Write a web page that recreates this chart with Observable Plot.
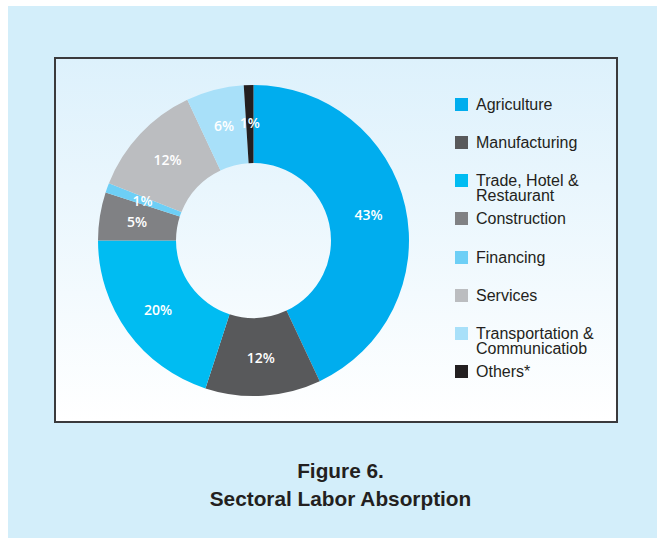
<!DOCTYPE html>
<html>
<head>
<meta charset="utf-8">
<script src="https://cdn.jsdelivr.net/npm/d3@7"></script>
<script src="https://cdn.jsdelivr.net/npm/@observablehq/plot@0.6"></script>
<style>
  html, body { margin: 0; padding: 0; background: #ffffff; width: 657px; height: 538px; overflow: hidden; }
  #panel { position: absolute; left: 8px; top: 6px; width: 649px; height: 532px; background: #d3eefa; }
  #box { position: absolute; left: 54px; top: 57px; width: 560px; height: 362px;
         border: 2px solid #3a3a3c; background: linear-gradient(#ddf1fc, #ffffff); }
  #chart { position: absolute; left: 56px; top: 59px; }
  .sw { position: absolute; width: 13px; height: 13px; }
  .lt { position: absolute; font-family: "Liberation Sans", Arial, Helvetica, sans-serif; font-size: 16px;
        line-height: 15px; color: #231f20; white-space: pre-line; }
  #title { position: absolute; left: 90px; width: 501px; top: 457px; text-align: center;
           font-family: "Liberation Sans", Arial, Helvetica, sans-serif; font-weight: bold; font-size: 20.8px;
           line-height: 27.5px; color: #231f20; }
</style>
</head>
<body>
<div id="panel"></div>
<div id="box"></div>
<div id="chart"></div>
<div id="legend"></div>
<div id="title">Figure 6.<br>Sectoral Labor Absorption</div>
<script>
// ---- data ----
const sectors = ["Agriculture", "Manufacturing", "Trade, Hotel & Restaurant", "Construction",
                 "Financing", "Services", "Transportation & Communicatiob", "Others*"];
const legendLabels = ["Agriculture", "Manufacturing", "Trade, Hotel &\nRestaurant", "Construction",
                      "Financing", "Services", "Transportation &\nCommunicatiob", "Others*"];
const shares = [43, 12, 20, 5, 1, 12, 6, 1];
const colors = ["#00adee", "#58595b", "#00bcf2", "#808184", "#6dcff6", "#bbbdc0", "#a8e0f9", "#231f20"];

const data = sectors.map((s, i) => ({sector: s, value: shares[i]}));
const total = d3.sum(shares);

const innerR = 77.5, outerR = 155.5, labelR = 118;
const arcGen = d3.arc().innerRadius(innerR).outerRadius(outerR);

function g(ctx, dims) {
  const el = d3.select(ctx.document.createElementNS(d3.namespaces.svg, "g"));
  el.attr("transform", `translate(${dims.width / 2},${dims.height / 2})`);
  return el;
}

const chart = Plot.plot({
  width: 395,
  height: 363,
  margin: 0,
  style: {background: "none", overflow: "visible"},
  x: {domain: [0, total], range: [0, 2 * Math.PI], axis: null},
  color: {domain: sectors, range: colors},
  marks: [
    Plot.barX(data, {
      x: "value", fill: "sector",
      render(I, scales, values, dims, ctx) {
        const el = g(ctx, dims);
        el.selectAll("path").data(I).join("path")
          .attr("d", i => arcGen({startAngle: values.x1[i], endAngle: values.x2[i]}))
          .attr("fill", i => values.fill[i]);
        return el.node();
      }
    }),
    Plot.text(data, Plot.stackX({
      x: "value", text: d => d.value + "%",
      render(I, scales, values, dims, ctx) {
        const el = g(ctx, dims);
        el.selectAll("text").data(I).join("text")
          .attr("x", i => labelR * Math.sin(values.x[i]))
          .attr("y", i => -labelR * Math.cos(values.x[i]))
          .attr("text-anchor", "middle")
          .attr("dy", "0.36em")
          .attr("fill", "#ffffff")
          .attr("font-family", "'Open Sans', sans-serif")
          .attr("font-weight", 600)
          .attr("font-size", 14)
          .text(i => values.text[i]);
        return el.node();
      }
    }))
  ]
});
document.getElementById("chart").appendChild(chart);

// ---- legend (HTML, from the same arrays) ----
const legend = document.getElementById("legend");
const color = chart.scale("color");
sectors.forEach((s, i) => {
  const cy = 104 + i * 38.25;
  const sw = document.createElement("div");
  sw.className = "sw";
  sw.style.left = "455px";
  sw.style.top = (cy - 6.5) + "px";
  sw.style.background = color.apply(s);
  legend.appendChild(sw);
  const t = document.createElement("div");
  t.className = "lt";
  t.style.left = "476px";
  t.style.top = (cy - 7.3) + "px";
  t.textContent = legendLabels[i];
  legend.appendChild(t);
});
</script>
</body>
</html>
